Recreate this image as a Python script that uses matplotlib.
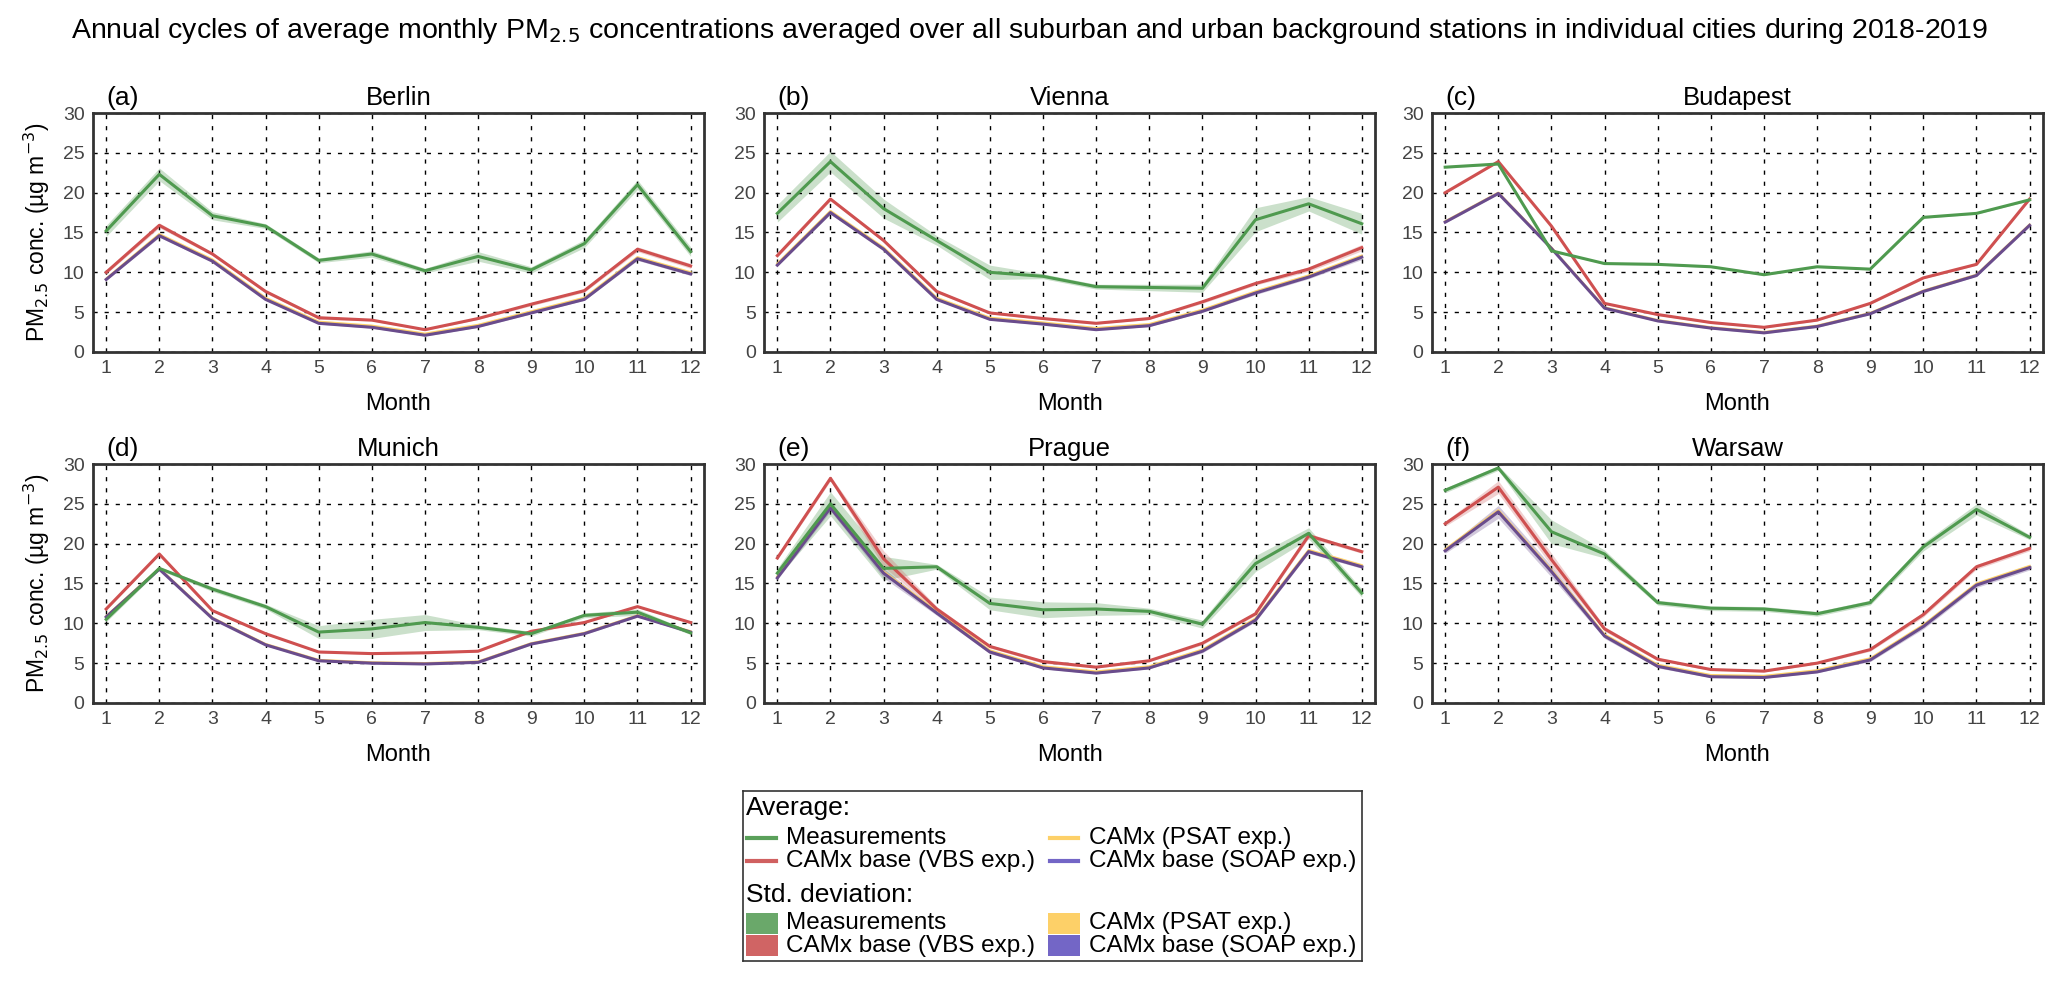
import numpy as np
import matplotlib
matplotlib.use("Agg")
import matplotlib.pyplot as plt
from matplotlib.lines import Line2D
from matplotlib.patches import Rectangle

plt.rcParams['font.family'] = ['Liberation Sans', 'DejaVu Sans']

months = list(range(1, 13))
cities = ["Berlin", "Vienna", "Budapest", "Munich", "Prague", "Warsaw"]
letters = ["(a)", "(b)", "(c)", "(d)", "(e)", "(f)"]

# measurements (mean, std)
meas_berlin = [15.2, 22.3, 17.1, 15.8, 11.5, 12.3, 10.2, 12.0, 10.3, 13.6, 21.0, 12.6]
meas_vienna = [17.4, 23.9, 18.0, 14.0, 10.0, 9.5, 8.2, 8.1, 8.0, 16.6, 18.6, 16.1]
meas_budapest = [23.2, 23.6, 12.7, 11.1, 11.0, 10.7, 9.7, 10.7, 10.4, 16.9, 17.4, 19.1]
meas_munich = [10.5, 16.9, 14.3, 12.1, 8.9, 9.3, 10.1, 9.5, 8.7, 11.0, 11.4, 8.8]
meas_prague = [16.3, 25.0, 16.9, 17.1, 12.5, 11.7, 11.8, 11.5, 9.9, 17.5, 21.3, 13.8]
meas_warsaw = [26.7, 29.5, 21.5, 18.7, 12.6, 11.9, 11.8, 11.2, 12.6, 19.6, 24.3, 20.8]

meas_sd_berlin = [0.7, 0.8, 0.5, 0.3, 0.3, 0.4, 0.3, 0.6, 0.4, 0.5, 0.6, 0.6]
meas_sd_vienna = [1.1, 1.3, 1.2, 0.6, 0.9, 0.3, 0.3, 0.4, 0.5, 1.5, 0.9, 1.3]
meas_sd_budapest = [0.1, 0.1, 0.1, 0.1, 0.1, 0.1, 0.1, 0.1, 0.1, 0.1, 0.1, 0.1]
meas_sd_munich = [0.3, 0.2, 0.3, 0.3, 0.8, 1.2, 1.0, 0.3, 0.3, 0.3, 0.4, 0.2]
meas_sd_prague = [0.6, 1.5, 1.5, 0.3, 0.8, 1.0, 0.8, 0.4, 0.5, 1.0, 0.7, 0.5]
meas_sd_warsaw = [0.3, 0.3, 1.5, 0.5, 0.3, 0.3, 0.3, 0.3, 0.3, 0.5, 0.7, 0.3]

# CAMx base (VBS exp.)
vbs_berlin = [10.0, 15.9, 12.3, 7.6, 4.3, 4.0, 2.8, 4.2, 6.0, 7.7, 12.9, 10.8]
vbs_vienna = [12.1, 19.2, 14.0, 7.6, 4.9, 4.2, 3.6, 4.2, 6.3, 8.6, 10.4, 13.1]
vbs_budapest = [20.0, 23.9, 15.8, 6.1, 4.7, 3.7, 3.1, 4.0, 6.1, 9.3, 11.0, 19.2]
vbs_munich = [11.8, 18.7, 11.6, 8.7, 6.4, 6.2, 6.3, 6.5, 9.0, 10.1, 12.1, 10.1]
vbs_prague = [18.2, 28.2, 18.1, 11.8, 7.1, 5.2, 4.5, 5.3, 7.5, 11.2, 21.0, 19.0]
vbs_warsaw = [22.5, 27.1, 18.0, 9.3, 5.5, 4.2, 4.0, 5.0, 6.7, 11.1, 17.1, 19.4]

vbs_sd_berlin = [0.2, 0.3, 0.2, 0.2, 0.2, 0.1, 0.1, 0.1, 0.2, 0.2, 0.3, 0.3]
vbs_sd_vienna = [0.2, 0.2, 0.2, 0.2, 0.1, 0.1, 0.1, 0.1, 0.2, 0.2, 0.3, 0.4]
vbs_sd_budapest = [0.1, 0.1, 0.1, 0.1, 0.1, 0.1, 0.1, 0.1, 0.1, 0.1, 0.1, 0.1]
vbs_sd_munich = [0.1, 0.1, 0.1, 0.1, 0.1, 0.1, 0.1, 0.1, 0.1, 0.1, 0.1, 0.1]
vbs_sd_prague = [0.2, 0.3, 1.0, 0.3, 0.2, 0.2, 0.1, 0.1, 0.2, 0.2, 0.3, 0.2]
vbs_sd_warsaw = [0.3, 0.8, 0.8, 0.3, 0.2, 0.1, 0.1, 0.1, 0.2, 0.3, 0.3, 0.3]

# CAMx base (SOAP exp.)
soap_berlin = [9.1, 14.6, 11.4, 6.6, 3.6, 3.1, 2.1, 3.2, 4.9, 6.6, 11.7, 9.8]
soap_vienna = [10.9, 17.5, 12.9, 6.6, 4.1, 3.5, 2.8, 3.3, 5.1, 7.4, 9.4, 11.9]
soap_budapest = [16.3, 19.9, 13.0, 5.5, 3.9, 3.0, 2.4, 3.2, 4.8, 7.6, 9.6, 15.9]
soap_munich = [10.8, 16.8, 10.6, 7.3, 5.3, 5.0, 4.9, 5.1, 7.4, 8.7, 10.9, 8.9]
soap_prague = [15.7, 24.5, 16.3, 11.3, 6.4, 4.4, 3.75, 4.4, 6.5, 10.4, 19.0, 17.1]
soap_warsaw = [19.1, 24.0, 16.5, 8.4, 4.6, 3.3, 3.2, 3.9, 5.4, 9.6, 14.8, 17.0]

soap_sd_berlin = [0.1, 0.2, 0.1, 0.1, 0.1, 0.1, 0.1, 0.1, 0.1, 0.1, 0.2, 0.2]
soap_sd_vienna = [0.1, 0.2, 0.1, 0.1, 0.1, 0.1, 0.1, 0.1, 0.1, 0.2, 0.2, 0.3]
soap_sd_budapest = [0.1, 0.1, 0.1, 0.1, 0.1, 0.1, 0.1, 0.1, 0.1, 0.1, 0.1, 0.1]
soap_sd_munich = [0.1, 0.1, 0.1, 0.1, 0.1, 0.1, 0.1, 0.1, 0.1, 0.1, 0.1, 0.1]
soap_sd_prague = [0.2, 0.4, 0.6, 0.3, 0.2, 0.1, 0.1, 0.1, 0.2, 0.2, 0.2, 0.2]
soap_sd_warsaw = [0.3, 0.8, 0.7, 0.3, 0.2, 0.1, 0.1, 0.1, 0.2, 0.3, 0.3, 0.3]

# CAMx (PSAT exp.) - almost hidden under the SOAP line
psat_berlin = [9.2, 14.8, 11.6, 6.8, 3.8, 3.3, 2.3, 3.4, 5.1, 6.8, 11.9, 10.0]
psat_vienna = [11.1, 17.7, 13.1, 6.8, 4.3, 3.7, 3.0, 3.5, 5.3, 7.6, 9.6, 12.1]
psat_budapest = [16.4, 20.0, 13.1, 5.6, 4.0, 3.1, 2.5, 3.3, 4.9, 7.7, 9.7, 16.0]
psat_munich = [10.9, 16.9, 10.7, 7.4, 5.4, 5.1, 5.0, 5.2, 7.5, 8.8, 11.0, 9.0]
psat_prague = [15.9, 24.7, 16.5, 11.5, 6.6, 4.6, 3.95, 4.6, 6.7, 10.6, 19.2, 17.3]
psat_warsaw = [19.3, 24.2, 16.7, 8.6, 4.8, 3.5, 3.4, 4.1, 5.6, 9.8, 15.0, 17.2]

meas_all = [meas_berlin, meas_vienna, meas_budapest, meas_munich, meas_prague, meas_warsaw]
meas_sd_all = [meas_sd_berlin, meas_sd_vienna, meas_sd_budapest, meas_sd_munich, meas_sd_prague, meas_sd_warsaw]
vbs_all = [vbs_berlin, vbs_vienna, vbs_budapest, vbs_munich, vbs_prague, vbs_warsaw]
vbs_sd_all = [vbs_sd_berlin, vbs_sd_vienna, vbs_sd_budapest, vbs_sd_munich, vbs_sd_prague, vbs_sd_warsaw]
soap_all = [soap_berlin, soap_vienna, soap_budapest, soap_munich, soap_prague, soap_warsaw]
soap_sd_all = [soap_sd_berlin, soap_sd_vienna, soap_sd_budapest, soap_sd_munich, soap_sd_prague, soap_sd_warsaw]
psat_all = [psat_berlin, psat_vienna, psat_budapest, psat_munich, psat_prague, psat_warsaw]

c_meas = '#4f9a4f'
c_vbs = '#cf5050'
c_psat = '#fdd068'
c_soap = '#6a4c8c'

fig = plt.figure(figsize=(20.6, 9.81), dpi=100)

fig.text(0.5, 0.968, "Annual cycles of average monthly PM$_{2.5}$ concentrations averaged over all suburban "
         "and urban background stations in individual cities during 2018-2019",
         ha='center', va='center', fontsize=20.5)

lefts = [0.0451, 0.3709, 0.6951]
bottoms = [0.6412, 0.2834]
w, h = 0.2966, 0.2436

for i, city in enumerate(cities):
    ax = fig.add_axes([lefts[i % 3], bottoms[i // 3], w, h])
    x = np.array(months)
    m = np.array(meas_all[i]); ms = np.array(meas_sd_all[i])
    v = np.array(vbs_all[i]); vs = np.array(vbs_sd_all[i])
    s = np.array(soap_all[i]); ss = np.array(soap_sd_all[i])
    p = np.array(psat_all[i])

    ax.fill_between(x, m - ms, m + ms, color='#6aa86a', alpha=0.35, lw=0)
    ax.fill_between(x, v - vs, v + vs, color='#d06464', alpha=0.3, lw=0)
    ax.fill_between(x, s - ss, s + ss, color='#6a4c8c', alpha=0.3, lw=0)
    ax.plot(x, p, color=c_psat, lw=1.6)
    ax.plot(x, s, color=c_soap, lw=2.2)
    ax.plot(x, v, color=c_vbs, lw=2.2)
    ax.plot(x, m, color=c_meas, lw=2.2)

    ax.set_xlim(0.75, 12.25)
    ax.set_ylim(0, 30)
    ax.set_xticks(months)
    ax.set_yticks([0, 5, 10, 15, 20, 25, 30])
    ax.grid(True, color='black', linestyle=(0, (3, 5)), linewidth=1.0)
    ax.tick_params(length=0, labelsize=14, labelcolor='#444444', pad=6)
    for sp in ax.spines.values():
        sp.set_color('#333333')
        sp.set_linewidth(2)
    ax.set_xlabel("Month", fontsize=17, labelpad=11)
    if i % 3 == 0:
        ax.set_ylabel("PM$_{2.5}$ conc. (\u00b5g m$^{-3}$)", fontsize=16.5, labelpad=8)
    ax.set_title(city, fontsize=18.5, pad=6)
    ax.text(0.022, 1.012, letters[i], transform=ax.transAxes, fontsize=19, ha='left', va='bottom')

# legend drawn by hand in its own axes
lax = fig.add_axes([0.3607, 0.0204, 0.3005, 0.1733])
lax.set_xlim(0, 1)
lax.set_ylim(0, 1)
lax.set_xticks([])
lax.set_yticks([])
for sp in lax.spines.values():
    sp.set_color('#333333')
    sp.set_linewidth(1.2)

fs = 17.5
lax.text(0.004, 0.90, "Average:", fontsize=19, va='center', ha='left')
lax.text(0.004, 0.39, "Std. deviation:", fontsize=19, va='center', ha='left')

line_entries = [
    ("Measurements", '#5aa05a', 0, 0.724),
    ("CAMx base (VBS exp.)", '#d06060', 0, 0.588),
    ("CAMx (PSAT exp.)", c_psat, 1, 0.724),
    ("CAMx base (SOAP exp.)", '#7366c6', 1, 0.588),
]
col_x = [(0.006, 0.053, 0.069), (0.496, 0.541, 0.559)]
for label, col, c, y in line_entries:
    x0, x1, xt = col_x[c]
    lax.add_line(Line2D([x0, x1], [y, y], color=col, lw=3))
    lax.text(xt, y, label, fontsize=fs, va='center', ha='left')

patch_entries = [
    ("Measurements", '#6aa86a', 0, 0.159),
    ("CAMx base (VBS exp.)", '#d06464', 0, 0.029),
    ("CAMx (PSAT exp.)", c_psat, 1, 0.159),
    ("CAMx base (SOAP exp.)", '#7366c6', 1, 0.029),
]
patch_x = [(0.004, 0.057, 0.069), (0.492, 0.545, 0.559)]
for label, col, c, y in patch_entries:
    x0, x1, xt = patch_x[c]
    lax.add_patch(Rectangle((x0, y), x1 - x0, 0.125, color=col, lw=0))
    lax.text(xt, y + 0.062, label, fontsize=fs, va='center', ha='left')

fig.savefig("out.png", dpi=100)
